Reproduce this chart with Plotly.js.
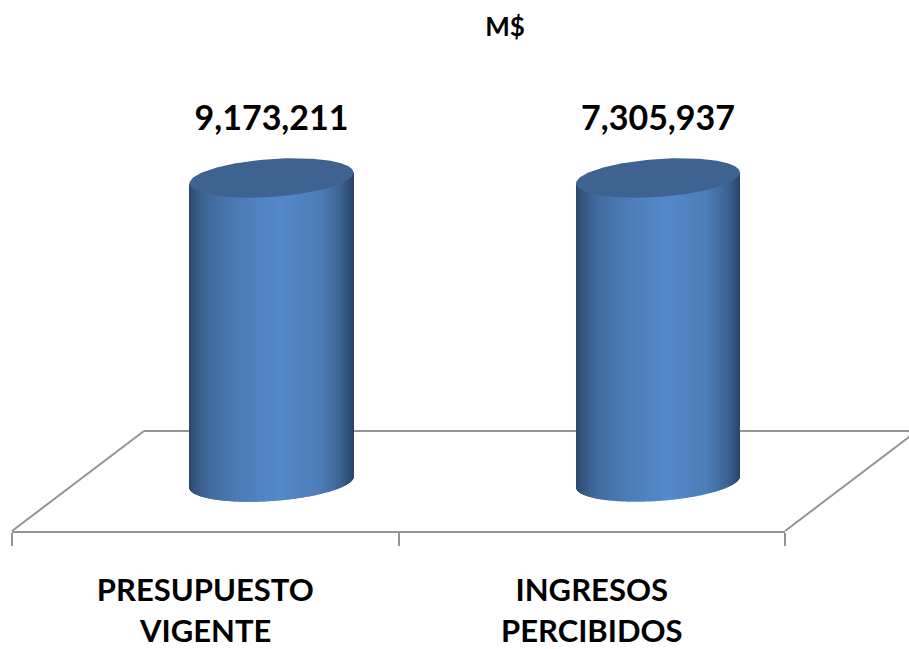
<!DOCTYPE html>
<html>
<head>
<meta charset="utf-8">
<script src="https://cdn.plot.ly/plotly-3.0.1.min.js"></script>
<style>html,body{margin:0;padding:0;background:#fff}#chart{width:909px;height:649px}</style>
</head>
<body>
<div id="chart"></div>
<script>
// Data
const categoryLine1 = ['PRESUPUESTO', 'INGRESOS'];
const categoryLine2 = ['VIGENTE', 'PERCIBIDOS'];
const values = [9173211, 7305937];
// The reference draws both cylinders at the same height, whatever the value labels say.
const drawnHeights = [1, 1];

// Cylinder shading, from left edge to right edge: [position, r, g, b]
const shadeStops = [
  [0.00, 42, 70, 107], [0.04, 52, 86, 128], [0.12, 64, 106, 156], [0.30, 76, 124, 182],
  [0.55, 84, 136, 204], [0.80, 76, 125, 182], [0.92, 60, 100, 148], [1.00, 40, 68, 104]
];
const topColor = '#3e6390';
const floorColor = '#949494';
const font = 'Lato, "Open Sans", sans-serif';

// Axis scale in pixels, used only to express sizes of the 3D look in data units
const pxPerCat = 386.5, pxPerUnit = 304;
const depthX = 132 / pxPerCat, cylShift = 66.25 / pxPerCat, halfW = 82 / pxPerCat;
const floorFront = -49 / pxPerUnit, floorBack = 51 / pxPerUnit;
const ellB = 19 / pxPerUnit, ellS = 5.5 / pxPerUnit;
const stripW = 1 / pxPerCat;

function shade(t) {
  for (let i = 1; i < shadeStops.length; i++) {
    if (t <= shadeStops[i][0]) {
      const a = shadeStops[i - 1], b = shadeStops[i], f = (t - a[0]) / (b[0] - a[0]);
      return 'rgb(' + [1, 2, 3].map(k => Math.round(a[k] + (b[k] - a[k]) * f)).join(',') + ')';
    }
  }
  return 'rgb(40,68,104)';
}

const traces = [{
  type: 'scatter', mode: 'markers', x: categoryLine1, y: [0, 0], xaxis: 'x', yaxis: 'y',
  marker: {opacity: 0}, hoverinfo: 'skip', showlegend: false
}];

values.forEach((v, i) => {
  const cx = i + cylShift, h = drawnHeights[i];
  const xs = [], base = [], ys = [], cols = [];
  const n = Math.round(2 * halfW / stripW);
  for (let k = 0; k < n; k++) {
    const t = (k + 0.5) / n, u = 2 * t - 1;
    xs.push(cx + u * halfW);
    const b = ellS * u - ellB * Math.sqrt(1 - u * u);
    base.push(b);
    ys.push(h + ellS * u - b);
    cols.push(shade(t));
  }
  traces.push({
    type: 'bar', x: xs, y: ys, base: base, width: stripW, xaxis: 'x2', yaxis: 'y',
    opacity: 1, marker: {color: cols, opacity: 1, line: {width: 0}}, hoverinfo: 'skip', showlegend: false
  });
  const ex = [], ey = [];
  for (let a = 0; a <= 180; a++) {
    const th = a * Math.PI / 90;
    ex.push(cx + halfW * Math.cos(th));
    ey.push(h + ellS * Math.cos(th) + ellB * Math.sin(th));
  }
  traces.push({
    type: 'scatter', mode: 'lines', x: ex, y: ey, xaxis: 'x2', yaxis: 'y', fill: 'toself',
    fillcolor: topColor, line: {width: 0, color: topColor}, hoverinfo: 'skip', showlegend: false
  });
  traces.push({
    type: 'scatter', mode: 'text', x: [cx], y: [h + 0.185], xaxis: 'x2', yaxis: 'y',
    text: [v.toLocaleString('en-US')], textposition: 'middle center',
    textfont: {family: font, size: 34, color: '#000', weight: 700},
    hoverinfo: 'skip', showlegend: false
  });
});

const floorLine = (x0, y0, x1, y1) => ({
  type: 'line', layer: 'below', xref: 'x2', yref: 'y', x0, y0, x1, y1,
  line: {color: floorColor, width: 2}
});
const left = -0.5, right = 1.5;

const layout = {
  width: 909, height: 649, paper_bgcolor: '#fff', plot_bgcolor: 'rgba(0,0,0,0)',
  margin: {l: 0, r: 0, t: 0, b: 118}, showlegend: false, barmode: 'overlay', hovermode: false,
  dragmode: false,
  title: {
    text: '<b>M$</b>', x: 505 / 909, xref: 'paper', xanchor: 'center',
    y: 1 - 27 / 649, yref: 'container', yanchor: 'middle',
    font: {family: font, size: 26, color: '#000', weight: 900}
  },
  xaxis: {
    type: 'category', domain: [12 / 909, 785 / 909], range: [left, right], anchor: 'y',
    categoryorder: 'array', categoryarray: categoryLine1,
    tickson: 'boundaries', ticks: 'outside', ticklen: 13, tickwidth: 2, tickcolor: floorColor,
    ticklabelstandoff: 31,
    showline: true, linecolor: floorColor, linewidth: 2, showgrid: false, zeroline: false,
    tickfont: {family: font, size: 31, color: '#000', weight: 700}
  },
  xaxis2: {
    domain: [0, 1], range: [left - 12 / pxPerCat, left + 897 / pxPerCat], anchor: 'y',
    visible: false, showgrid: false, zeroline: false
  },
  yaxis: {
    domain: [0, 1], range: [floorFront, 482 / pxPerUnit], visible: false,
    showgrid: false, zeroline: false
  },
  shapes: [
    floorLine(left + depthX, floorBack, right + depthX, floorBack),
    floorLine(left, floorFront, left + depthX, floorBack),
    floorLine(right, floorFront, right + depthX, floorBack)
  ],
  annotations: categoryLine2.map((t, i) => ({
    text: t, xref: 'paper', yref: 'paper', showarrow: false,
    x: (12 + (i + 0.5) * pxPerCat) / 909, y: 0, xanchor: 'center', yanchor: 'middle', yshift: -99,
    font: {family: font, size: 31, color: '#000', weight: 700}
  }))
};

Plotly.newPlot('chart', traces, layout, {displayModeBar: false});
</script>
</body>
</html>
